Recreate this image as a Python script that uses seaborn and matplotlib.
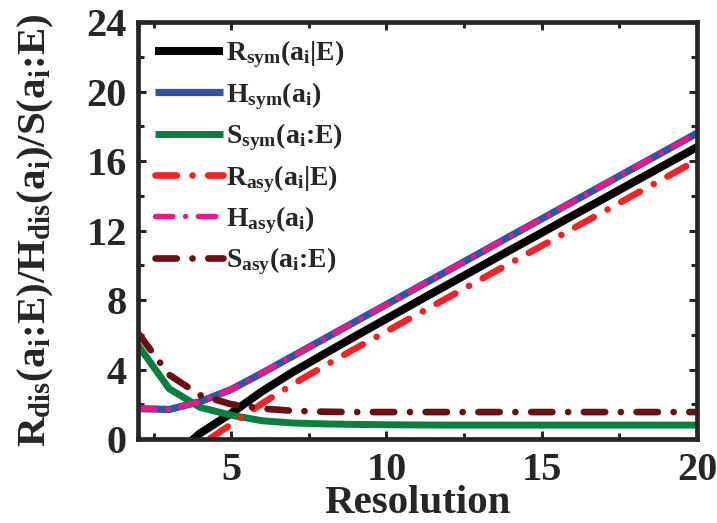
import numpy as np
import pandas as pd
import matplotlib
matplotlib.use("Agg")
import matplotlib.pyplot as plt
from matplotlib.ticker import MultipleLocator
import seaborn as sns

# Resolution steps and the measured quantities at each step
resolution = [2, 3, 4, 5, 6, 7, 8, 9, 10, 11, 12, 13, 14, 15, 16, 17, 18, 19, 20]

h_sym = [1.75, 1.70, 2.15, 2.85, 3.80, 4.79, 5.77, 6.76, 7.74, 8.73, 9.71,
         10.70, 11.69, 12.67, 13.66, 14.64, 15.63, 16.61, 17.60]
s_sym = [5.40, 2.90, 1.82, 1.37, 1.05, 0.92, 0.87, 0.84, 0.82, 0.81, 0.80,
         0.80, 0.80, 0.80, 0.80, 0.80, 0.80, 0.80, 0.80]
h_asy = list(h_sym)
s_asy = [6.10, 3.70, 2.52, 2.00, 1.75, 1.62, 1.57, 1.55, 1.55, 1.55, 1.55,
         1.55, 1.55, 1.55, 1.55, 1.55, 1.55, 1.55, 1.55]
# R = H - S
r_sym = [h - s for h, s in zip(h_sym, s_sym)]
r_asy = [h - s for h, s in zip(h_asy, s_asy)]

labels = [r"R$_\mathrm{sym}$(a$_\mathrm{i}$|E)",
          r"H$_\mathrm{sym}$(a$_\mathrm{i}$)",
          r"S$_\mathrm{sym}$(a$_\mathrm{i}$:E)",
          r"R$_\mathrm{asy}$(a$_\mathrm{i}$|E)",
          r"H$_\mathrm{asy}$(a$_\mathrm{i}$)",
          r"S$_\mathrm{asy}$(a$_\mathrm{i}$:E)"]
series = [r_sym, h_sym, s_sym, r_asy, h_asy, s_asy]
colors = ["#000000", "#3153a5", "#0c7e3e", "#ee2428", "#e8198b", "#6a1014"]

sns.set_theme(style="ticks")
plt.rcParams["font.family"] = ["Liberation Serif", "DejaVu Serif"]
plt.rcParams["font.weight"] = "bold"
plt.rcParams["mathtext.fontset"] = "custom"
plt.rcParams["mathtext.rm"] = "Liberation Serif:bold"
plt.rcParams["mathtext.it"] = "Liberation Serif:bold"
plt.rcParams["mathtext.bf"] = "Liberation Serif:bold"

fig = plt.figure(figsize=(7.17, 5.23), dpi=100)
# axes box: x 138..697 px, y 22..439 px
ax = fig.add_axes([0.1925, 0.1606, 0.7796, 0.7973])

dash_pattern = (3.2, 2.35, 0.01, 2.35)
widths = [5.8, 5.2, 5.0, 4.8, 3.9, 4.8]
for i, (vals, lab, col) in enumerate(zip(series, labels, colors)):
    df = pd.DataFrame({"Resolution": resolution, "value": vals})
    sns.lineplot(data=df, x="Resolution", y="value", ax=ax, color=col,
                 linewidth=widths[i], label=lab)
    line = ax.lines[-1]
    if i >= 3:
        line.set_dashes(dash_pattern)
    line.set_dash_capstyle("round")
    line.set_solid_capstyle("butt")

ax.set_xlim(2, 20)
ax.set_ylim(0, 24)
ax.xaxis.set_major_locator(MultipleLocator(5))
ax.xaxis.set_minor_locator(MultipleLocator(2.5))
ax.yaxis.set_major_locator(MultipleLocator(4))
ax.yaxis.set_minor_locator(MultipleLocator(2))
ax.tick_params(which="both", direction="in", top=True, right=True,
               width=2.2, labelsize=29)
ax.tick_params(axis="x", pad=9)
ax.tick_params(axis="y", pad=8)
ax.tick_params(which="major", length=6)
ax.tick_params(which="minor", length=4)
for sp in ax.spines.values():
    sp.set_linewidth(3.4)
for t in ax.get_xticklabels() + ax.get_yticklabels():
    t.set_fontweight("bold")

ax.set_xlabel("Resolution", fontsize=29.5, fontweight="bold", labelpad=-2.5)
ax.set_ylabel(r"R$_\mathrm{dis}$(a$_\mathrm{i}$:E)/H$_\mathrm{dis}$(a$_\mathrm{i}$)/S(a$_\mathrm{i}$:E)",
              fontsize=29.5, fontweight="bold")
ax.yaxis.set_label_coords(-0.147, 0.5)

leg = ax.legend(loc="upper left", bbox_to_anchor=(0.0, 1.0), frameon=False,
                fontsize=20, handlelength=2.45, handletextpad=0.1,
                labelspacing=0.35, borderaxespad=0.3, borderpad=0.3)
for t in leg.get_texts():
    t.set_fontweight("bold")
for h in leg.get_lines():
    h.set_dash_capstyle("round")

fig.savefig("out.png", dpi=100)
